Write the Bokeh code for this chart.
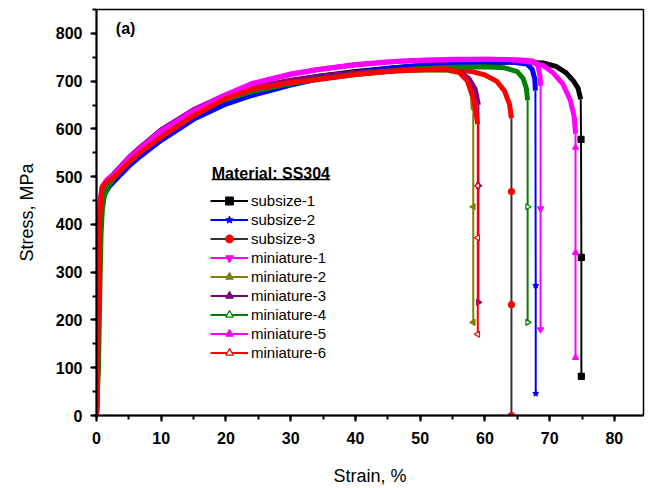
import numpy as np
from bokeh.plotting import figure
from bokeh.models import Range1d, SingleIntervalTicker, Legend, LegendItem, Label
from bokeh.embed import file_html
from bokeh.resources import INLINE

FONT = "Liberation Sans"

# ---------------- data ----------------
names = ["subsize-1", "subsize-2", "subsize-3", "miniature-1", "miniature-2",
         "miniature-3", "miniature-4", "miniature-5", "miniature-6"]

s1_strain = [0, 0.15, 0.3, 0.45, 0.6, 0.9, 1.5, 2.7, 5, 6.8, 10, 15, 20, 24, 30, 34, 40, 46, 50, 55, 60, 65, 69, 71, 72.5, 73.7, 74.4, 74.8]
s1_stress = [0, 100, 250, 390, 440, 470, 483, 500, 530, 550, 582, 625, 660, 680, 700, 710, 720, 728, 732, 736, 739, 740, 738, 731, 718, 700, 685, 662]
s1_drop_strain = [74.8, 74.85, 74.9, 74.9]
s1_drop_stress = [662, 578, 331, 82]

s2_strain = [0, 0.2, 0.35, 0.55, 0.8, 1.2, 2, 2.7, 5, 6.8, 10, 15, 20, 24, 30, 34, 40, 46, 50, 55, 60, 64, 66.5, 67.3, 67.7, 67.8]
s2_stress = [0, 100, 250, 380, 430, 462, 480, 490, 522, 543, 576, 620, 652, 670, 692, 704, 718, 728, 733, 737, 740, 740, 736, 725, 705, 680]
s2_drop_strain = [67.8, 67.85, 67.85]
s2_drop_stress = [680, 272, 46]

s3_strain = [0, 0.15, 0.3, 0.45, 0.6, 0.9, 1.5, 2.7, 5, 6.8, 10, 15, 20, 24, 30, 34, 40, 46, 50, 55, 58, 60, 61.8, 63, 63.8, 64.1]
s3_stress = [0, 110, 260, 400, 446, 476, 488, 500, 532, 552, 584, 628, 664, 682, 698, 706, 716, 722, 725, 724, 720, 713, 700, 680, 652, 622]
s3_drop_strain = [64.1, 64.1, 64.1, 64.1]
s3_drop_stress = [622, 469, 232, 0]

m1_strain = [0, 0.1, 0.25, 0.4, 0.55, 0.85, 1.5, 2.7, 5, 6.8, 10, 15, 20, 24, 30, 34, 40, 46, 50, 55, 60, 65, 67.5, 68.2, 68.5, 68.6]
m1_stress = [0, 100, 250, 400, 445, 478, 492, 506, 540, 562, 598, 640, 672, 695, 715, 724, 735, 741, 743, 745, 746, 745, 742, 732, 712, 690]
m1_drop_strain = [68.6, 68.6, 68.6]
m1_drop_stress = [690, 433, 180]

m2_strain = [0, 0.2, 0.35, 0.5, 0.7, 1.0, 1.5, 2.7, 5, 6.8, 10, 15, 20, 24, 30, 34, 40, 46, 50, 54, 56, 57.3, 58, 58.2]
m2_stress = [0, 100, 250, 400, 448, 472, 486, 505, 538, 560, 596, 638, 668, 684, 700, 708, 716, 721, 723, 723, 718, 705, 682, 640]
m2_drop_strain = [58.2, 58.2, 58.2]
m2_drop_stress = [640, 437, 195]

m3_strain = [0, 0.2, 0.35, 0.5, 0.7, 1.0, 1.5, 2.7, 5, 6.8, 10, 15, 20, 24, 30, 34, 40, 46, 50, 54, 56, 57.5, 58.5, 59]
m3_stress = [0, 100, 250, 400, 448, 474, 488, 506, 540, 562, 598, 640, 670, 686, 702, 710, 718, 723, 726, 725, 720, 706, 683, 650]
m3_drop_strain = [59, 59, 59]
m3_drop_stress = [650, 481, 237]

m4_strain = [0, 0.3, 0.5, 0.7, 0.9, 1.2, 1.8, 2.7, 5, 6.8, 10, 15, 20, 24, 30, 34, 40, 46, 50, 55, 60, 63, 65, 65.9, 66.4, 66.6]
m4_stress = [0, 100, 250, 380, 430, 460, 480, 497, 532, 555, 590, 632, 662, 678, 695, 704, 714, 722, 726, 729, 730, 728, 720, 706, 685, 660]
m4_drop_strain = [66.6, 66.6, 66.6]
m4_drop_stress = [660, 437, 195]

m5_strain = [0, 0.1, 0.25, 0.4, 0.55, 0.85, 1.5, 2.7, 5, 6.8, 10, 15, 20, 24, 30, 34, 40, 46, 50, 55, 60, 64, 67, 69, 70.5, 72, 73.2, 73.8, 74]
m5_stress = [0, 120, 260, 400, 446, 476, 490, 504, 538, 560, 596, 638, 670, 694, 714, 724, 734, 741, 744, 746, 746, 745, 740, 733, 718, 695, 660, 625, 590]
m5_drop_strain = [74, 74, 74, 74]
m5_drop_stress = [590, 561, 341, 121]

m6_strain = [0, 0.15, 0.3, 0.45, 0.6, 0.9, 1.5, 2.7, 5, 6.8, 10, 15, 20, 24, 30, 34, 40, 46, 50, 54, 56, 57.3, 58.3, 58.9]
m6_stress = [0, 100, 250, 400, 446, 478, 488, 499, 530, 551, 583, 628, 664, 683, 697, 703, 714, 721, 724, 726, 719, 700, 660, 610]
m6_drop_strain = [58.9, 58.9, 58.9, 58.9]
m6_drop_stress = [610, 481, 372, 170]

x_ticks_interval = 10
y_ticks_interval = 100

# ---------------- styles ----------------
series = [
    (s1_strain, s1_stress, s1_drop_strain, s1_drop_stress, "black", "black", "square", 0, True),
    (s2_strain, s2_stress, s2_drop_strain, s2_drop_stress, "#0000ff", "#0000ff", "star", 0, True),
    (s3_strain, s3_stress, s3_drop_strain, s3_drop_stress, "#333333", "#ff0000", "circle", 0, True),
    (m1_strain, m1_stress, m1_drop_strain, m1_drop_stress, "#ff00ff", "#ff00ff", "inverted_triangle", 0, True),
    (m2_strain, m2_stress, m2_drop_strain, m2_drop_stress, "#808000", "#808000", "triangle", np.pi / 2, True),
    (m3_strain, m3_stress, m3_drop_strain, m3_drop_stress, "#800080", "#800080", "triangle", -np.pi / 2, True),
    (m4_strain, m4_stress, m4_drop_strain, m4_drop_stress, "#008000", "#008000", "triangle", -np.pi / 2, False),
    (m5_strain, m5_stress, m5_drop_strain, m5_drop_stress, "#ff00ff", "#ff00ff", "triangle", 0, True),
    (m6_strain, m6_stress, m6_drop_strain, m6_drop_stress, "#ff0000", "#ff0000", "triangle", np.pi / 2, False),
]

p = figure(width=645, height=488, output_backend="svg", toolbar_location=None,
           title=None,
           x_range=Range1d(0, 84.5), y_range=Range1d(0, 850),
           min_border_left=96, min_border_right=2, min_border_top=9,
           min_border_bottom=73)
p.background_fill_color = "white"
p.border_fill_color = "white"
p.xgrid.visible = False
p.ygrid.visible = False
p.outline_line_color = "black"
p.outline_line_width = 1.5

items = []
for (cx, cy, dx, dy, lc, mc, mk, ang, filled), name in zip(series, names):
    p.line(cx, cy, line_color=mc, line_width=5)
    thin = p.line(dx, dy, line_color=lc, line_width=2)
    sc = p.scatter(dx[1:], dy[1:], marker=mk, angle=ang, size=6,
                   line_color=mc, fill_color=mc if filled else "white",
                   line_width=1.2)
    items.append(LegendItem(label=name, renderers=[thin, sc]))

legend = Legend(items=items, location=(114, 53))
legend.border_line_color = None
legend.background_fill_alpha = 0
legend.padding = 0
legend.margin = 0
legend.spacing = 0
legend.glyph_width = 38
legend.glyph_height = 19
legend.label_height = 19
legend.label_standoff = 3
legend.label_text_font = FONT
legend.label_text_font_size = "15px"
legend.label_text_color = "black"
p.add_layout(legend)

for ax in (p.xaxis[0], p.yaxis[0]):
    ax.axis_line_width = 2
    ax.axis_line_color = "black"
    ax.major_tick_line_width = 2
    ax.minor_tick_line_width = 2
    ax.major_tick_out = 6
    ax.major_tick_in = 0
    ax.minor_tick_out = 4
    ax.minor_tick_in = 0
    ax.major_label_text_font = FONT
    ax.major_label_text_font_size = "16px"
    ax.major_label_text_font_style = "bold"
    ax.major_label_text_color = "black"
    ax.axis_label_text_font = FONT
    ax.axis_label_text_font_size = "18px"
    ax.axis_label_text_font_style = "normal"
    ax.axis_label_text_color = "black"

p.xaxis[0].ticker = SingleIntervalTicker(interval=x_ticks_interval, num_minor_ticks=2)
p.yaxis[0].ticker = SingleIntervalTicker(interval=y_ticks_interval, num_minor_ticks=2)
p.xaxis[0].axis_label = "Strain, %"
p.yaxis[0].axis_label = "Stress, MPa"
p.xaxis[0].major_label_standoff = 10
p.yaxis[0].major_label_standoff = 8
p.xaxis[0].axis_label_standoff = 19
p.yaxis[0].axis_label_standoff = 16

p.add_layout(Label(x=4.5, y=810, text="(a)", text_font=FONT, text_font_size="16px",
                   text_font_style="bold", text_align="center", text_baseline="middle",
                   text_color="black"))
p.add_layout(Label(x=17.8, y=507, text="Material: SS304", text_font=FONT,
                   text_font_size="16px", text_font_style="bold",
                   text_align="left", text_baseline="middle", text_color="black"))
p.segment(x0=[17.8], y0=[494], x1=[36.1], y1=[494], line_color="black", line_width=1.5)

open("out.html", "w").write(file_html(p, INLINE))
